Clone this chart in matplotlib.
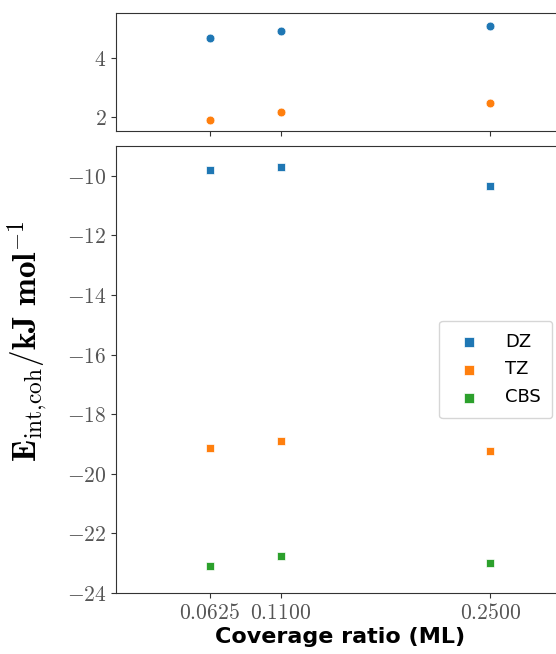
import matplotlib
matplotlib.use('Agg')
import matplotlib.pyplot as plt
from matplotlib.ticker import FuncFormatter, FixedLocator

coverage = [0.0625, 0.1100, 0.2500]
xtick_labels = ['0.0625', '0.1100', '0.2500']

# top panel (circles)
top_dz = [4.68, 4.92, 5.08]
top_tz = [1.90, 2.17, 2.47]

# bottom panel (squares)
e_dz = [-9.80, -9.70, -10.34]
e_tz = [-19.14, -18.89, -19.22]
e_cbs = [-23.08, -22.75, -22.98]

blue = '#1f77b4'
orange = '#ff7f0e'
green = '#2ca02c'

plt.rcParams['mathtext.fontset'] = 'cm'
plt.rcParams['axes.edgecolor'] = '#333333'

fig = plt.figure(figsize=(5.56, 6.54), dpi=100)
ax1 = fig.add_axes([0.2086, 0.7997, 0.8076, 0.1804])
ax2 = fig.add_axes([0.2086, 0.0933, 0.8076, 0.6835])

ax1.scatter(coverage, top_dz, color=blue, marker='o', s=40, edgecolors='white', linewidths=0.5)
ax1.scatter(coverage, top_tz, color=orange, marker='o', s=40, edgecolors='white', linewidths=0.5)
ax1.set_ylim(1.53, 5.53)
ax1.set_xlim(0, 0.3)
ax1.set_yticks([2, 4])
ax1.xaxis.set_major_locator(FixedLocator(coverage))
ax1.set_xticklabels([])

ax2.scatter(coverage, e_dz, color=blue, marker='s', s=40, edgecolors='white', linewidths=0.5, label='DZ')
ax2.scatter(coverage, e_tz, color=orange, marker='s', s=40, edgecolors='white', linewidths=0.5, label='TZ')
ax2.scatter(coverage, e_cbs, color=green, marker='s', s=40, edgecolors='white', linewidths=0.5, label='CBS')
ax2.set_ylim(-24, -9)
ax2.set_xlim(0, 0.3)
ax2.set_yticks(range(-24, -9, 2))
ax2.set_xticks(coverage)
ax2.set_xticklabels(['$' + t + '$' for t in xtick_labels])

fmt = FuncFormatter(lambda v, p: '$%g$' % v)
ax1.yaxis.set_major_formatter(fmt)
ax2.yaxis.set_major_formatter(fmt)

for ax in (ax1, ax2):
    ax.tick_params(labelsize=15.5, labelcolor='#555555', color='#333333')

ax2.set_xlabel('Coverage ratio (ML)', fontsize=16, fontweight='bold', labelpad=3)
fig.text(0.05, 0.478, r'$\mathbf{E}_{\rm int{,}coh}/\mathbf{kJ\ mol}^{-1}$',
         rotation=90, fontsize=24, ha='center', va='center')

ax2.legend(loc='center right', fontsize=13, markerscale=1.1, handletextpad=1.0,
           borderpad=0.65, labelspacing=0.55, borderaxespad=0.7)

fig.savefig('out.png', dpi=100)
